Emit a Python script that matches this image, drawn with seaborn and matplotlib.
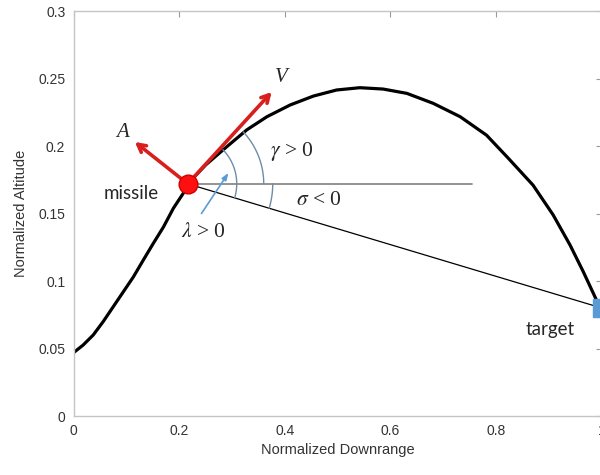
import numpy as np
import matplotlib
matplotlib.use("Agg")
import matplotlib.pyplot as plt
import seaborn as sns
import pandas as pd

# trajectory (normalized units)
downrange = [0.0, 0.018, 0.037, 0.056, 0.075, 0.094, 0.113, 0.132, 0.151, 0.170,
             0.189, 0.2076, 0.216, 0.250, 0.290, 0.328, 0.366, 0.410, 0.454,
             0.498, 0.542, 0.586, 0.631, 0.681, 0.732, 0.782, 0.823, 0.870,
             0.908, 0.940, 0.965, 0.990, 1.0]
altitude = [0.047, 0.0526, 0.060, 0.070, 0.081, 0.092, 0.103, 0.1156, 0.128, 0.140,
            0.154, 0.165, 0.172, 0.186, 0.1995, 0.212, 0.2217, 0.2304, 0.237,
            0.2415, 0.2432, 0.2422, 0.239, 0.2316, 0.2217, 0.208, 0.191, 0.171,
            0.149, 0.1267, 0.107, 0.086, 0.079]

missile = [0.216, 0.172]
target = [1.0, 0.08]
v_tip = [0.375, 0.240]
a_tip = [0.116, 0.203]
horiz_end = 0.754
lam_arrow = [[0.242, 0.150], [0.293, 0.180]]

x_ticks = [0, 0.2, 0.4, 0.6, 0.8, 1]
y_ticks = [0, 0.05, 0.1, 0.15, 0.2, 0.25, 0.3]

sns.set_style("white")
plt.rcParams["font.family"] = ["Liberation Sans", "DejaVu Sans"]
plt.rcParams["mathtext.fontset"] = "stix"

fig = plt.figure(figsize=(6, 4.75), dpi=100)
ax = fig.add_axes([0.1228, 0.1242, 0.8800, 0.8526])

df = pd.DataFrame({"x": downrange, "y": altitude})
sns.lineplot(data=df, x="x", y="y", sort=False, color="black", lw=2.3, ax=ax)

ax.set_xlim(0, 1)
ax.set_ylim(0, 0.3)
ax.set_xticks(x_ticks)
ax.set_xticklabels(["0", "0.2", "0.4", "0.6", "0.8", "1"])
ax.set_yticks(y_ticks)
ax.set_yticklabels(["0", "0.05", "0.1", "0.15", "0.2", "0.25", "0.3"])
ax.tick_params(direction="in", length=4, width=0.8, color="#9a9a9a",
               labelsize=10, labelcolor="#333333", top=True, right=True, pad=6)
for s in ax.spines.values():
    s.set_color("#c4c4c4")
    s.set_linewidth(1.0)
ax.set_xlabel("Normalized Downrange", fontsize=10.5, color="#333333", labelpad=3)
ax.set_ylabel("Normalized Altitude", fontsize=10.5, color="#333333", labelpad=7)

# pixels per data unit, to draw round arcs on a stretched axis
px_x = fig.get_figwidth() * fig.dpi * 0.8800 / 1.0
px_y = fig.get_figheight() * fig.dpi * 0.8526 / 0.3

def arc(r, a0, a1, **kw):
    t = np.radians(np.linspace(a0, a1, 60))
    ax.plot(missile[0] + r * np.cos(t) / px_x, missile[1] + r * np.sin(t) / px_y, **kw)

def px_angle(p):
    return np.degrees(np.arctan2((p[1] - missile[1]) * px_y, (p[0] - missile[0]) * px_x))

los_ang = px_angle(target)

# horizontal reference and line of sight
ax.plot([missile[0], horiz_end], [missile[1], missile[1]], color="#808080", lw=1.2)
ax.plot([missile[0], target[0]], [missile[1], target[1]], color="black", lw=0.9)

arc_col = "#6f8ca6"
arc(49, los_ang, 44, color=arc_col, lw=1.0)
arc(76, 0, 43, color=arc_col, lw=1.0)
arc(85, los_ang, 0, color=arc_col, lw=1.0)

# velocity and acceleration vectors
for tip in (v_tip, a_tip):
    ax.annotate("", xy=tip, xytext=missile,
                arrowprops=dict(arrowstyle="->,head_length=0.55,head_width=0.3",
                                color="#d91e1e", lw=2.6, shrinkA=0, shrinkB=0))
ax.annotate("", xy=lam_arrow[1], xytext=lam_arrow[0],
            arrowprops=dict(arrowstyle="-|>,head_length=0.4,head_width=0.15",
                            color="#5b9bd5", lw=1.2, shrinkA=0, shrinkB=0))

ax.plot(missile[0], missile[1], "o", ms=13.5, color="#ff1010", mec="#d00000", zorder=5)
ax.plot(target[0], target[1], "s", ms=13.5, color="#5b9bd5", zorder=5, clip_on=False)

serif = ["Liberation Serif", "DejaVu Serif"]
ax.text(0.393, 0.251, "V", fontsize=15, style="italic", family=serif, ha="center", va="center")
ax.text(0.093, 0.210, "A", fontsize=15, style="italic", family=serif, ha="center", va="center")
ax.text(0.414, 0.196, r"$\gamma$ > 0", fontsize=15.5, family=serif, ha="center", va="center")
ax.text(0.465, 0.160, r"$\sigma$ < 0", fontsize=15.5, family=serif, ha="center", va="center")
ax.text(0.245, 0.136, r"$\lambda$ > 0", fontsize=15.5, family=serif, ha="center", va="center")
ax.text(0.109, 0.165, "missile", fontsize=13.5, ha="center", va="center",
        family=["Lato", "DejaVu Sans"])
ax.text(0.902, 0.064, "target", fontsize=13.5, ha="center", va="center",
        family=["Lato", "DejaVu Sans"])

fig.savefig("out.png", dpi=100)
